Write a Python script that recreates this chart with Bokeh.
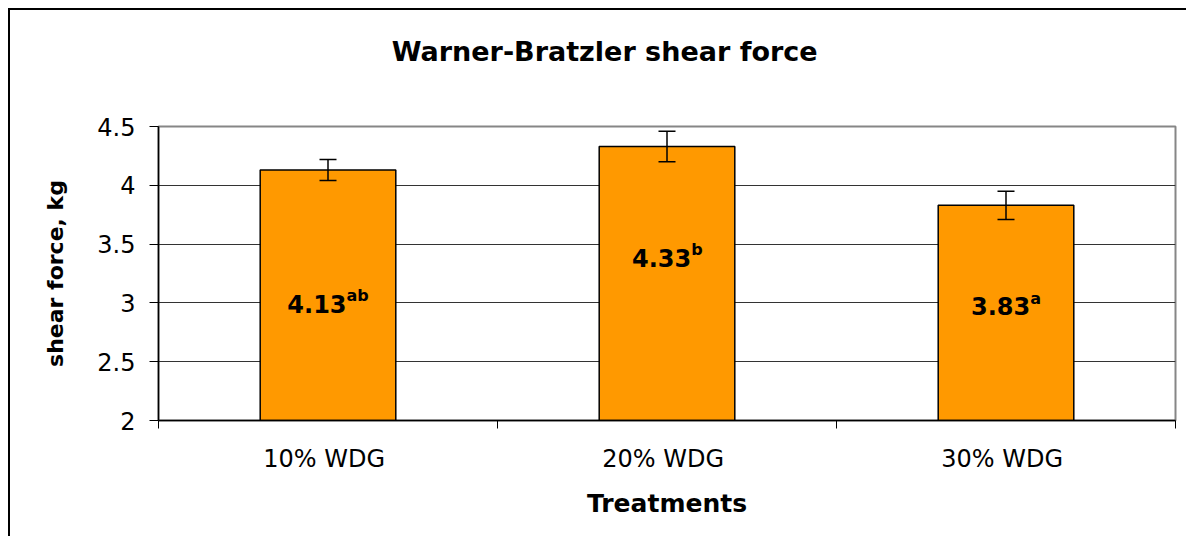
from bokeh.plotting import figure
from bokeh.models import (Range1d, FixedTicker, NumeralTickFormatter, LinearAxis,
                          Whisker, TeeHead, ColumnDataSource)
from bokeh.embed import file_html
from bokeh.resources import INLINE
from bokeh.core.properties import value

# ---- data ----
treatments = ["10%  WDG", "20%  WDG", "30%  WDG"]
shear_force = [4.13, 4.33, 3.83]
std_err = [0.09, 0.13, 0.12]
letters = ["ab", "b", "a"]
y_ticks = [2, 2.5, 3, 3.5, 4, 4.5]
title_text = "Warner-Bratzler shear force"
x_title = "Treatments"
y_title = "shear force, kg"

# ---- layout / style ----
FONT = "DejaVu Sans"
Y0, Y1 = y_ticks[0], y_ticks[-1]
n = len(treatments)
x_centers = [i + 0.5 for i in range(n)]
label_mid_y = [2.991, 3.383, 2.971]   # vertical middle of value labels inside bars
TITLE_CENTER_X = 1.316                 # title is centred slightly left of the frame
MAIN_PX, SUP_PX = 24, 16
main_w = [len(f"{v:.2f}") * 0.62 * MAIN_PX for v in shear_force]
sup_w = [len(s) * 0.7 * SUP_PX for s in letters]
dx = [(m - s) / 2 for m, s in zip(main_w, sup_w)]

src = ColumnDataSource(dict(
    x=x_centers, top=shear_force,
    upper=[v + e for v, e in zip(shear_force, std_err)],
    lower=[v - e for v, e in zip(shear_force, std_err)],
    vtxt=[f"{v:.2f}" for v in shear_force], sup=letters,
    ly=label_mid_y, dx=dx,
))

p = figure(width=1178, height=528, output_backend="svg", toolbar_location=None,
           x_range=Range1d(0, n), y_range=Range1d(Y0, Y1),
           min_border_left=148, min_border_right=13,
           min_border_top=116, min_border_bottom=118)
p.styles = {"border-left": "2px solid #000", "border-top": "2px solid #000",
            "margin-left": "8px", "margin-top": "8px"}
p.background_fill_color = "white"
p.border_fill_color = "white"
p.outline_line_color = "#868686"
p.outline_line_width = 2

xa = p.below[0]
ya = p.left[0]

p.xgrid.visible = False
p.ygrid.ticker = FixedTicker(ticks=y_ticks)
p.ygrid.grid_line_color = "#333333"
p.ygrid.grid_line_width = 1

# y axis
ya.ticker = FixedTicker(ticks=y_ticks)
ya.formatter = NumeralTickFormatter(format="0.[0]")
ya.major_tick_out = 9
ya.major_tick_in = 0
ya.minor_tick_line_color = None
ya.major_tick_line_color = "black"
ya.axis_line_color = "black"
ya.axis_line_width = 1.5
ya.major_label_text_font = FONT
ya.major_label_text_font_size = "24px"
ya.major_label_text_color = "black"
ya.major_label_standoff = 14
ya.axis_label = y_title
ya.axis_label_text_font = FONT
ya.axis_label_text_font_style = "bold"
ya.axis_label_text_font_size = "22px"
ya.axis_label_text_color = "black"
ya.axis_label_standoff = 26

# x axis
xa.ticker = FixedTicker(ticks=x_centers, minor_ticks=list(range(n + 1)))
xa.major_label_overrides = {c: t for c, t in zip(x_centers, treatments)}
xa.major_tick_line_color = None
xa.major_tick_out = 0
xa.major_tick_in = 0
xa.minor_tick_out = 8
xa.minor_tick_in = 0
xa.minor_tick_line_color = "black"
xa.axis_line_color = "black"
xa.axis_line_width = 1.5
xa.major_label_text_font = FONT
xa.major_label_text_font_size = "24px"
xa.major_label_text_color = "black"
xa.major_label_standoff = 16
xa.axis_label = x_title
xa.axis_label_text_font = FONT
xa.axis_label_text_font_style = "bold"
xa.axis_label_text_font_size = "25px"
xa.axis_label_text_color = "black"
xa.axis_label_standoff = 13

# chart title, carried as the single tick label of a bare axis above the frame
ta = LinearAxis(ticker=FixedTicker(ticks=[TITLE_CENTER_X]),
                major_label_overrides={TITLE_CENTER_X: title_text},
                axis_line_color=None, major_tick_line_color=None,
                minor_tick_line_color=None, major_tick_out=0, minor_tick_out=0,
                major_tick_in=0, minor_tick_in=0, major_label_standoff=60,
                major_label_text_font=FONT,
                major_label_text_font_style="bold",
                major_label_text_font_size="27px",
                major_label_text_color="black")
p.add_layout(ta, "above")

# bars
p.vbar(x="x", top="top", bottom=Y0, width=0.4, source=src,
       fill_color="#FF9900", line_color="black", line_width=1.5)

# error bars
w = Whisker(source=src, base="x", upper="upper", lower="lower",
            line_color="black", line_width=1.5, level="annotation",
            upper_head=TeeHead(size=17, line_color="black", line_width=1.5),
            lower_head=TeeHead(size=17, line_color="black", line_width=1.5))
p.add_layout(w)

# value labels with superscript letters
p.text(x="x", y="ly", text="vtxt", x_offset="dx", source=src,
       text_align="right", text_baseline="middle",
       text_font=value(FONT), text_font_style="bold",
       text_font_size=f"{MAIN_PX}px", text_color="black")
p.text(x="x", y="ly", text="sup", x_offset="dx", y_offset=-8, source=src,
       text_align="left", text_baseline="middle",
       text_font=value(FONT), text_font_style="bold",
       text_font_size=f"{SUP_PX}px", text_color="black")

open("out.html", "w").write(file_html(p, INLINE))
